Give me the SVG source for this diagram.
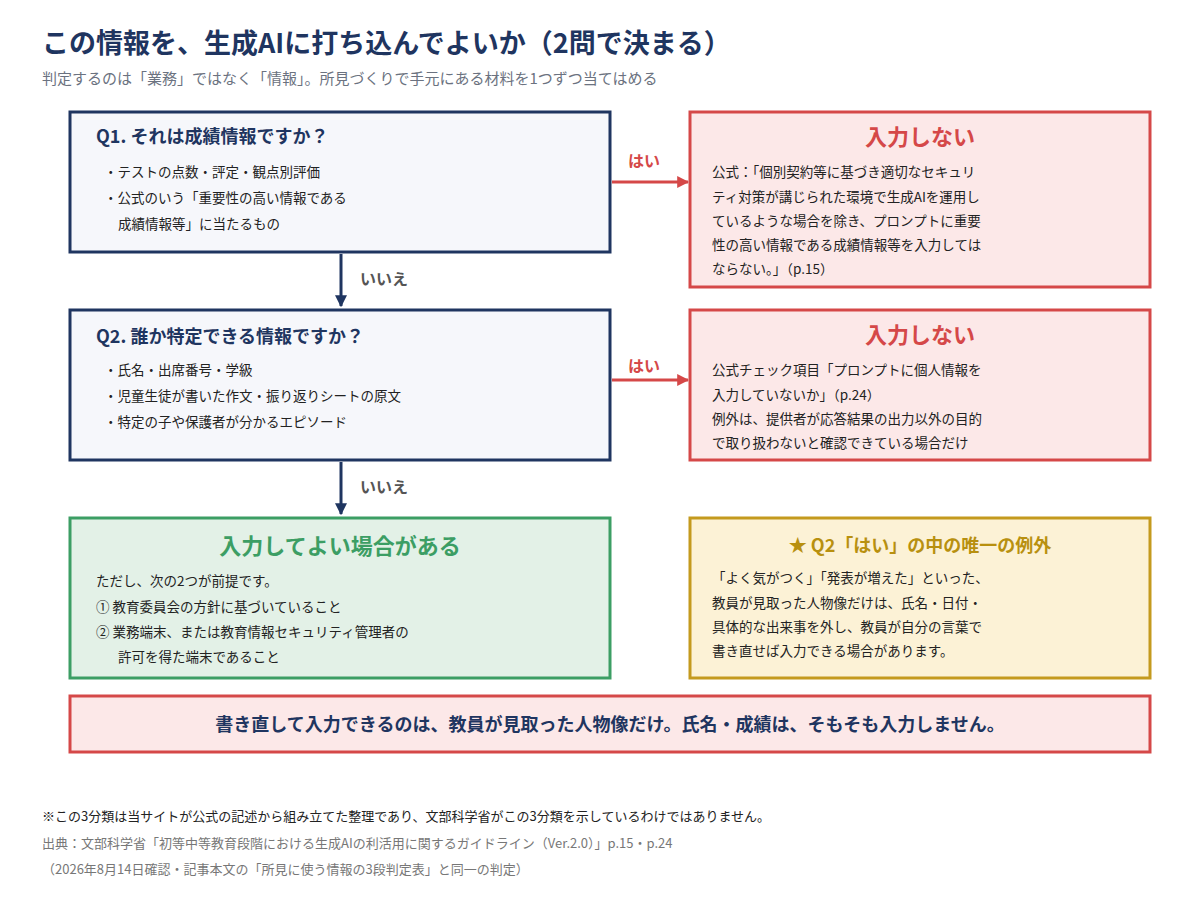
<svg xmlns="http://www.w3.org/2000/svg" width="1200" height="900" viewBox="0 0 1200 900">
<defs>
<style>
text{font-family:"Noto Sans CJK JP","Noto Sans",sans-serif;}
.q{fill:#f6f7fb;stroke:#1f3560;stroke-width:3}
.r{fill:#fce8e8;stroke:#d54848;stroke-width:3}
.g{fill:#e3f1e7;stroke:#3c9e64;stroke-width:3}
.y{fill:#fcf2d6;stroke:#c49a1e;stroke-width:3}
.qt{font-size:18px;font-weight:700;fill:#1f3560}
.b{font-size:13.5px;fill:#222}
.rt{font-size:22px;font-weight:700;fill:#d54848;text-anchor:middle}
.lbl{font-size:16px;font-weight:700}
.foot{font-size:13px;fill:#777}
</style>
<marker id="ar" viewBox="0 0 10 10" refX="9" refY="5" markerWidth="4" markerHeight="4" orient="auto"><path d="M0,0L10,5L0,10z" fill="#d54848"/></marker>
<marker id="an" viewBox="0 0 10 10" refX="9" refY="5" markerWidth="4" markerHeight="4" orient="auto"><path d="M0,0L10,5L0,10z" fill="#1f3560"/></marker>
</defs>
<rect width="1200" height="900" fill="#fff"/>
<text x="42" y="53" font-size="27" font-weight="700" fill="#1f3560">この情報を、生成AIに打ち込んでよいか（2問で決まる）</text>
<text x="42" y="84" font-size="15" fill="#6b7280">判定するのは「業務」ではなく「情報」。所見づくりで手元にある材料を1つずつ当てはめる</text>

<g id="q1"><rect class="q" x="70" y="112" width="540" height="140"/>
<text class="qt" x="96" y="143">Q1. それは成績情報ですか？</text>
<text class="b" x="104" y="177">・テストの点数・評定・観点別評価</text>
<text class="b" x="104" y="203">・公式のいう「重要性の高い情報である</text>
<text class="b" x="118" y="229">成績情報等」に当たるもの</text></g>

<g id="no1"><rect class="r" x="690" y="112" width="460" height="175"/>
<text class="rt" x="920" y="145">入力しない</text>
<text class="b" x="712" y="177">公式：「個別契約等に基づき適切なセキュリ</text>
<text class="b" x="712" y="202">ティ対策が講じられた環境で生成AIを運用し</text>
<text class="b" x="712" y="226">ているような場合を除き、プロンプトに重要</text>
<text class="b" x="712" y="250">性の高い情報である成績情報等を入力しては</text>
<text class="b" x="712" y="274">ならない。」（p.15）</text></g>

<g id="q2"><rect class="q" x="70" y="310" width="540" height="150"/>
<text class="qt" x="96" y="343">Q2. 誰か特定できる情報ですか？</text>
<text class="b" x="104" y="375">・氏名・出席番号・学級</text>
<text class="b" x="104" y="401">・児童生徒が書いた作文・振り返りシートの原文</text>
<text class="b" x="104" y="427">・特定の子や保護者が分かるエピソード</text></g>

<g id="no2"><rect class="r" x="690" y="310" width="460" height="150"/>
<text class="rt" x="920" y="343">入力しない</text>
<text class="b" x="712" y="375">公式チェック項目「プロンプトに個人情報を</text>
<text class="b" x="712" y="400">入力していないか」（p.24）</text>
<text class="b" x="712" y="424">例外は、提供者が応答結果の出力以外の目的</text>
<text class="b" x="712" y="448">で取り扱わないと確認できている場合だけ</text></g>

<g id="ok"><rect class="g" x="70" y="518" width="540" height="160"/>
<text x="340" y="554" font-size="22" font-weight="700" fill="#3c9e64" text-anchor="middle">入力してよい場合がある</text>
<text class="b" x="96" y="586">ただし、次の2つが前提です。</text>
<text class="b" x="96" y="612">① 教育委員会の方針に基づいていること</text>
<text class="b" x="96" y="637">② 業務端末、または教育情報セキュリティ管理者の</text>
<text class="b" x="118" y="662">許可を得た端末であること</text></g>

<g id="exc"><rect class="y" x="690" y="518" width="460" height="160"/>
<text x="920" y="552" font-size="18" font-weight="700" fill="#b8900f" text-anchor="middle">★ Q2「はい」の中の唯一の例外</text>
<text class="b" x="712" y="583">「よく気がつく」「発表が増えた」といった、</text>
<text class="b" x="712" y="608">教員が見取った人物像だけは、氏名・日付・</text>
<text class="b" x="712" y="632">具体的な出来事を外し、教員が自分の言葉で</text>
<text class="b" x="712" y="656">書き直せば入力できる場合があります。</text></g>

<g id="banner"><rect class="r" x="70" y="696" width="1080" height="56"/>
<text x="610" y="731" font-size="18" font-weight="700" fill="#1f3560" text-anchor="middle">書き直して入力できるのは、教員が見取った人物像だけ。氏名・成績は、そもそも入力しません。</text></g>

<g id="connectors">
<line x1="612" y1="182" x2="688" y2="182" stroke="#d54848" stroke-width="3" marker-end="url(#ar)"/>
<text class="lbl" x="628" y="167" fill="#d54848">はい</text>
<line x1="612" y1="380" x2="688" y2="380" stroke="#d54848" stroke-width="3" marker-end="url(#ar)"/>
<text class="lbl" x="628" y="372" fill="#d54848">はい</text>
<line x1="341" y1="254" x2="341" y2="306" stroke="#1f3560" stroke-width="3" marker-end="url(#an)"/>
<text class="lbl" x="360" y="285" fill="#555">いいえ</text>
<line x1="341" y1="462" x2="341" y2="514" stroke="#1f3560" stroke-width="3" marker-end="url(#an)"/>
<text class="lbl" x="360" y="493" fill="#555">いいえ</text>
</g>

<text x="42" y="821" font-size="13" fill="#222">※この3分類は当サイトが公式の記述から組み立てた整理であり、文部科学省がこの3分類を示しているわけではありません。</text>
<text class="foot" x="42" y="848">出典：文部科学省「初等中等教育段階における生成AIの利活用に関するガイドライン（Ver.2.0）」p.15・p.24</text>
<text class="foot" x="42" y="874">（2026年8月14日確認・記事本文の「所見に使う情報の3段判定表」と同一の判定）</text>
</svg>
